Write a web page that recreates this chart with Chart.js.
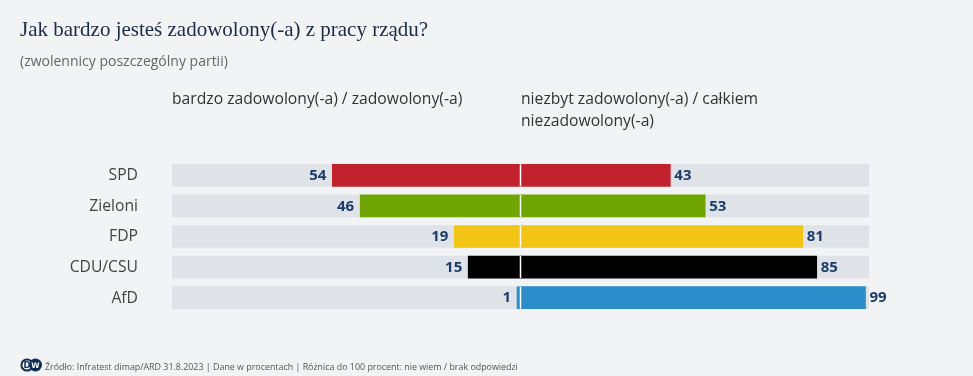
<!DOCTYPE html>
<html><head><meta charset="utf-8">
<script src="https://cdn.jsdelivr.net/npm/chart.js@4"></script>
<style>
html,body{margin:0;padding:0;background:#f2f3f5;width:973px;height:376px;overflow:hidden;}
#wrap{position:relative;width:973px;height:376px;}
canvas{position:absolute;left:0;top:0;}
.t{position:absolute;white-space:nowrap;}
#title{left:20px;top:17px;font-family:"Liberation Serif","DejaVu Serif",serif;font-size:21px;color:#1b2b48;}
#sub{left:20px;top:51px;font-family:"Open Sans",sans-serif;font-size:14px;color:#666;}
.hd{top:87px;font-family:"Open Sans",sans-serif;font-size:15.7px;color:#333;line-height:22px;}
#foot{left:45px;top:360px;font-family:"Open Sans",sans-serif;font-size:8.9px;color:#555;}
#logo{position:absolute;left:20px;top:358px;}
</style></head>
<body><div id="wrap">
<canvas id="c" width="973" height="376"></canvas>
<div class="t" id="title">Jak bardzo jesteś zadowolony(-a) z pracy rządu?</div>
<div class="t" id="sub">(zwolennicy poszczególny partii)</div>
<div class="t hd" id="h1" style="left:172px">bardzo zadowolony(-a) / zadowolony(-a)</div>
<div class="t hd" id="h2" style="left:521px">niezbyt zadowolony(-a) / całkiem<br>niezadowolony(-a)</div>
<svg id="logo" width="22" height="14" viewBox="0 0 22 14">
<circle cx="7" cy="7" r="5.6" fill="#fff" stroke="#0c2d55" stroke-width="2"/>
<text x="7" y="10.3" text-anchor="middle" font-family="DejaVu Sans" font-weight="bold" font-size="8.5" fill="#0c2d55">D</text>
<circle cx="15.5" cy="7" r="6.5" fill="#0c2d55"/>
<text x="15.5" y="10" text-anchor="middle" font-family="DejaVu Sans" font-weight="bold" font-size="7.5" fill="#fff">W</text>
</svg>
<div class="t" id="foot">Źródło: Infratest dimap/ARD 31.8.2023 | Dane w procentach | Różnica do 100 procent: nie wiem / brak odpowiedzi</div>
</div>
<script>
const categories = ["SPD", "Zieloni", "FDP", "CDU/CSU", "AfD"];
const satisfied = [54, 46, 19, 15, 1];
const dissatisfied = [43, 53, 81, 85, 99];
const colors = ["#c1222e", "#6fa500", "#f1c416", "#000000", "#2a8cc8"];
const trackColor = "#dfe3e8";
const valueColor = "#1b3d6c";

const labelPlugin = {
  id: 'labels',
  afterDatasetsDraw(chart) {
    const ctx = chart.ctx;
    const xs = chart.scales.x, ys = chart.scales.y;
    ctx.save();
    ctx.fillStyle = '#ffffff';
    categories.forEach((c, i) => {
      const y = ys.getPixelForValue(i);
      ctx.fillRect(xs.getPixelForValue(0) - 0.75, y - 11, 1.5, 22);
    });
    ctx.font = 'bold 15px "Open Sans", sans-serif';
    ctx.fillStyle = valueColor;
    ctx.textBaseline = 'middle';
    categories.forEach((c, i) => {
      const y = ys.getPixelForValue(i) + 0.5;
      ctx.textAlign = 'right';
      ctx.fillText(String(satisfied[i]), xs.getPixelForValue(-satisfied[i]) - 6, y);
      ctx.textAlign = 'left';
      ctx.fillText(String(dissatisfied[i]), xs.getPixelForValue(dissatisfied[i]) + 4, y);
    });
    ctx.font = '15.7px "Open Sans", sans-serif';
    ctx.fillStyle = '#444';
    ctx.textAlign = 'right';
    categories.forEach((c, i) => {
      ctx.fillText(c, 138, ys.getPixelForValue(i) + 0.5);
    });
    ctx.restore();
  }
};

new Chart(document.getElementById('c'), {
  type: 'bar',
  data: {
    labels: categories,
    datasets: [
      { label: 'left', data: satisfied.map(v => [-v, 0]), backgroundColor: colors, barThickness: 22, grouped: false, order: 0 },
      { label: 'right', data: dissatisfied.map(v => [0, v]), backgroundColor: colors, barThickness: 22, grouped: false, order: 0 },
      { label: 'track', data: categories.map(() => [-100, 100]), backgroundColor: trackColor, barThickness: 22, grouped: false, order: 5 }
    ]
  },
  options: {
    indexAxis: 'y',
    responsive: false,
    animation: false,
    layout: { padding: { left: 172, right: 104, top: 160, bottom: 63 } },
    scales: {
      x: { display: false, min: -100, max: 100 },
      y: { display: false }
    },
    plugins: { legend: { display: false }, tooltip: { enabled: false }, title: { display: false } }
  },
  plugins: [labelPlugin]
});
</script>
</body></html>
